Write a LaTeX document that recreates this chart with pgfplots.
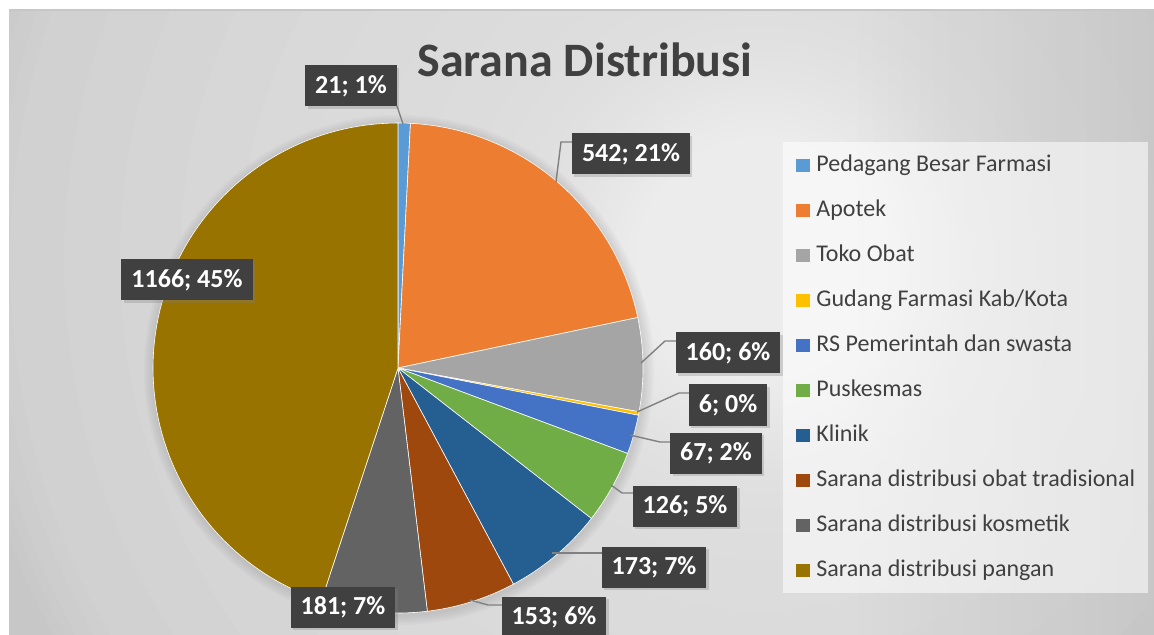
\documentclass[border=0pt]{standalone}
\usepackage{pgfplots}
\pgfplotsset{compat=1.18}
\usepackage{fontspec}
\setmainfont{Carlito}
\usetikzlibrary{shadows,fadings}
\definecolor{cPBF}{HTML}{5B9BD5}
\definecolor{cApo}{HTML}{ED7D31}
\definecolor{cToko}{HTML}{A5A5A5}
\definecolor{cGud}{HTML}{FFC000}
\definecolor{cRS}{HTML}{4472C4}
\definecolor{cPus}{HTML}{70AD47}
\definecolor{cKli}{HTML}{255E91}
\definecolor{cTrad}{HTML}{9E480E}
\definecolor{cKos}{HTML}{636363}
\definecolor{cPan}{HTML}{997300}
\definecolor{txt}{HTML}{404040}
\definecolor{lbl}{HTML}{404040}

% data values
\pgfmathsetmacro\total{21+542+160+6+67+126+173+153+181+1166}
\pgfmathsetmacro\degper{360/\total}
\def\cum{0}
\newcommand\pieslice[3]{%
  \pgfmathsetmacro\angA{90-\cum*\degper}%
  \pgfmathsetmacro\newcum{\cum+#1}%
  \pgfmathsetmacro\angB{90-\newcum*\degper}%
  \xdef\cum{\newcum}%
  \edef\doplot{\noexpand\addplot[fill=#2, draw=white, line width=0.3pt, domain=\angB:\angA, samples=90, variable=\noexpand\t] ({398+245*cos(\noexpand\t)},{368-245*sin(\noexpand\t)}) -- (axis cs:398,368) -- cycle;}%
  \doplot
  \addlegendentry{#3}%
}
\tikzset{lab/.style={fill=lbl, text=white, font=\bfseries\fontsize{13}{15}\selectfont, inner xsep=5pt, inner ysep=0pt, minimum height=20.5pt, drop shadow={shadow xshift=1.2pt, shadow yshift=-1.2pt, opacity=0.3}}}

\begin{document}
\begin{tikzpicture}
\path[use as bounding box] (0,0) rectangle (577pt,317.5pt);
\clip (0,0) rectangle (577pt,317.5pt);
\begin{scope}
\clip (4.5pt,0) rectangle (577pt,312.5pt);
\fill[black!22] (4.5pt,0) rectangle (577pt,312.5pt);
\foreach \r in {400,395,390,382,375,348,320,290,260,230,200,175,150,137,124,117,110,105,100,95,90,86,82,78,74,70,66,62,58,54,50,46,42,38,34,30,26,22,18,14}
  \fill[white, opacity=0.05] (380pt,187.5pt) circle (\r pt);
\fill[black, path fading=west, fill opacity=0.08] (425pt,0) rectangle (577pt,312.5pt);
\end{scope}
\draw[black!22, line width=0.8pt] (4.5pt,312.5pt) -- (577pt,312.5pt);
% soft shadow around the pie
\foreach \r in {123.5,124.5,125.5,126.5,127.5}
  \fill[black, opacity=0.02] (199.5pt,132.5pt) circle (\r pt);
\begin{axis}[
  at={(0,0)}, anchor=south west,
  width=577pt, height=317.5pt, scale only axis,
  xmin=0, xmax=1154, ymin=0, ymax=635, y dir=reverse,
  hide axis, clip=false,
  legend cell align=left,
  legend image code/.code={\fill[#1, draw=none, fill opacity=1] (0pt,-3.4pt) rectangle (7pt,3.4pt);},
  legend style={at={(axis cs:783,142)}, anchor=north west,
    fill=white, fill opacity=0.55, text opacity=1, draw=none,
    font=\fontsize{12}{14}\selectfont, text=txt,
    inner xsep=6.5pt, inner ysep=6pt, row sep=11.5pt, column sep=3pt,
    nodes={inner sep=0pt, text height=8.5pt, text depth=2.5pt}},
]
\pieslice{21}{cPBF}{Pedagang Besar Farmasi}
\pieslice{542}{cApo}{Apotek}
\pieslice{160}{cToko}{Toko Obat}
\pieslice{6}{cGud}{Gudang Farmasi Kab/Kota}
\pieslice{67}{cRS}{RS Pemerintah dan swasta}
\pieslice{126}{cPus}{Puskesmas}
\pieslice{173}{cKli}{Klinik}
\pieslice{153}{cTrad}{Sarana distribusi obat tradisional}
\pieslice{181}{cKos}{Sarana distribusi kosmetik}
\pieslice{1166}{cPan}{Sarana distribusi pangan}

% leader lines
\addplot[forget plot, draw=black!50, line width=0.7pt] coordinates {(403,124) (397,106)};
\addplot[forget plot, draw=black!50, line width=0.7pt] coordinates {(556,182) (561,142) (572,142)};
\addplot[forget plot, draw=black!50, line width=0.7pt] coordinates {(641,363) (665,341) (676,341)};
\addplot[forget plot, draw=black!50, line width=0.7pt] coordinates {(637,412) (679,393) (690,393)};
\addplot[forget plot, draw=black!50, line width=0.7pt] coordinates {(630,435) (660,442) (671,442)};
\addplot[forget plot, draw=black!50, line width=0.7pt] coordinates {(611,485) (622,493) (633,493)};
\addplot[forget plot, draw=black!50, line width=0.7pt] coordinates {(552,553) (602,553)};
\addplot[forget plot, draw=black!50, line width=0.7pt] coordinates {(470,600) (488,605) (502,605)};

% title
\node[anchor=base, font=\bfseries\fontsize{24}{28}\selectfont, text=txt] at (axis cs:585,77) {Sarana Distribusi};

% data labels
\node[lab] at (axis cs:351,86) {21; 1\%};
\node[lab] at (axis cs:631,154) {542; 21\%};
\node[lab] at (axis cs:728,353) {160; 6\%};
\node[lab] at (axis cs:728,405) {6; 0\%};
\node[lab] at (axis cs:716,453) {67; 2\%};
\node[lab] at (axis cs:685,506) {126; 5\%};
\node[lab] at (axis cs:654,567) {173; 7\%};
\node[lab] at (axis cs:554,617) {153; 6\%};
\node[lab] at (axis cs:343,607) {181; 7\%};
\node[lab] at (axis cs:187,280) {1166; 45\%};
\end{axis}
\end{tikzpicture}
\end{document}
